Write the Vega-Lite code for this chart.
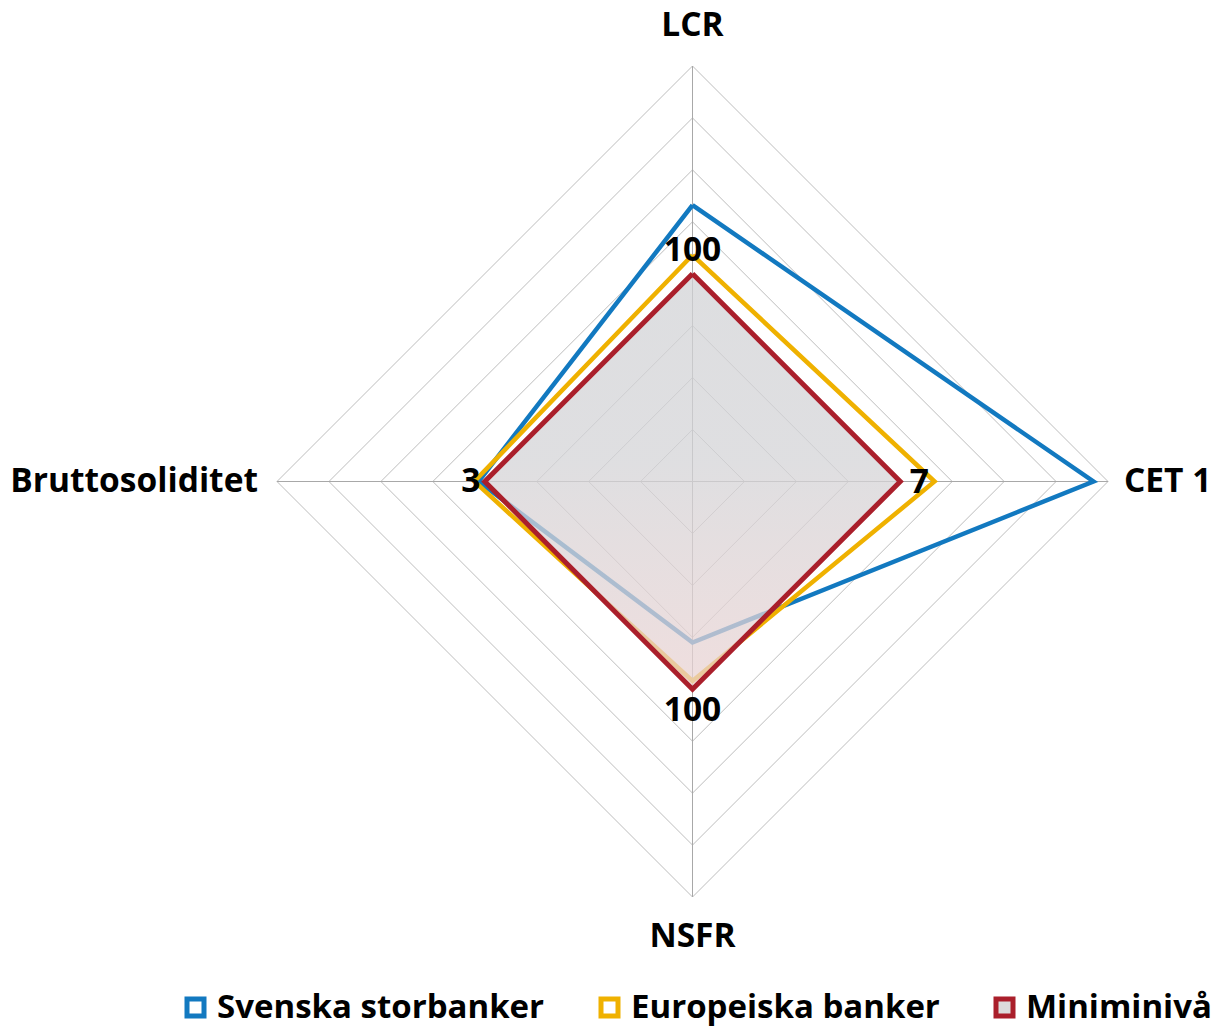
{
  "$schema": "https://vega.github.io/schema/vega-lite/v6.json",
  "width": 831,
  "height": 831,
  "autosize": "none",
  "padding": {"left": 277, "top": 66, "right": 110, "bottom": 130},
  "background": "white",
  "config": {"view": {"stroke": null}, "font": "Open Sans"},
  "datasets": {
    "grid": [
      {"v":25,"a":"LCR","o":0},{"v":25,"a":"CET 1","o":1},{"v":25,"a":"NSFR","o":2},{"v":25,"a":"Bruttosoliditet","o":3},{"v":25,"a":"LCR","o":4},
      {"v":50,"a":"LCR","o":0},{"v":50,"a":"CET 1","o":1},{"v":50,"a":"NSFR","o":2},{"v":50,"a":"Bruttosoliditet","o":3},{"v":50,"a":"LCR","o":4},
      {"v":75,"a":"LCR","o":0},{"v":75,"a":"CET 1","o":1},{"v":75,"a":"NSFR","o":2},{"v":75,"a":"Bruttosoliditet","o":3},{"v":75,"a":"LCR","o":4},
      {"v":100,"a":"LCR","o":0},{"v":100,"a":"CET 1","o":1},{"v":100,"a":"NSFR","o":2},{"v":100,"a":"Bruttosoliditet","o":3},{"v":100,"a":"LCR","o":4},
      {"v":125,"a":"LCR","o":0},{"v":125,"a":"CET 1","o":1},{"v":125,"a":"NSFR","o":2},{"v":125,"a":"Bruttosoliditet","o":3},{"v":125,"a":"LCR","o":4},
      {"v":150,"a":"LCR","o":0},{"v":150,"a":"CET 1","o":1},{"v":150,"a":"NSFR","o":2},{"v":150,"a":"Bruttosoliditet","o":3},{"v":150,"a":"LCR","o":4},
      {"v":175,"a":"LCR","o":0},{"v":175,"a":"CET 1","o":1},{"v":175,"a":"NSFR","o":2},{"v":175,"a":"Bruttosoliditet","o":3},{"v":175,"a":"LCR","o":4},
      {"v":200,"a":"LCR","o":0},{"v":200,"a":"CET 1","o":1},{"v":200,"a":"NSFR","o":2},{"v":200,"a":"Bruttosoliditet","o":3},{"v":200,"a":"LCR","o":4}
    ],
    "spokes": [
      {"x1":-200,"y1":0,"x2":200,"y2":0},
      {"x1":0,"y1":-200,"x2":0,"y2":200}
    ],
    "series": [
      {"s":"Svenska storbanker","a":"LCR","v":133,"o":0},
      {"s":"Svenska storbanker","a":"CET 1","v":193,"o":1},
      {"s":"Svenska storbanker","a":"NSFR","v":77.5,"o":2},
      {"s":"Svenska storbanker","a":"Bruttosoliditet","v":103,"o":3},
      {"s":"Svenska storbanker","a":"LCR","v":133,"o":4},
      {"s":"Europeiska banker","a":"LCR","v":109,"o":0},
      {"s":"Europeiska banker","a":"CET 1","v":116.5,"o":1},
      {"s":"Europeiska banker","a":"NSFR","v":96,"o":2},
      {"s":"Europeiska banker","a":"Bruttosoliditet","v":105,"o":3},
      {"s":"Europeiska banker","a":"LCR","v":109,"o":4},
      {"s":"Miniminivå","a":"LCR","v":100,"o":0},
      {"s":"Miniminivå","a":"CET 1","v":100,"o":1},
      {"s":"Miniminivå","a":"NSFR","v":100,"o":2},
      {"s":"Miniminivå","a":"Bruttosoliditet","v":100,"o":3},
      {"s":"Miniminivå","a":"LCR","v":100,"o":4}
    ],
    "valuelabels": [
      {"a":"LCR","v":100,"t":"100"},
      {"a":"CET 1","v":100,"t":"7"},
      {"a":"NSFR","v":100,"t":"100"},
      {"a":"Bruttosoliditet","v":100,"t":"3"}
    ],
    "axislabels": [
      {"a":"LCR","v":200},
      {"a":"CET 1","v":200},
      {"a":"NSFR","v":200},
      {"a":"Bruttosoliditet","v":200}
    ]
  },
  "layer": [
    {
      "data": {"name": "grid"},
      "transform": [
        {"calculate": "datum.a==='CET 1' ? datum.v : (datum.a==='Bruttosoliditet' ? -datum.v : 0)", "as": "x"},
        {"calculate": "datum.a==='LCR' ? datum.v : (datum.a==='NSFR' ? -datum.v : 0)", "as": "y"}
      ],
      "mark": {"type": "line", "stroke": "#bdbdbd", "strokeWidth": 1},
      "encoding": {
        "x": {"field": "x", "type": "quantitative", "scale": {"domain": [-200, 200], "nice": false}, "axis": null},
        "y": {"field": "y", "type": "quantitative", "scale": {"domain": [-200, 200], "nice": false}, "axis": null},
        "detail": {"field": "v"},
        "order": {"field": "o"}
      }
    },
    {
      "data": {"name": "spokes"},
      "mark": {"type": "rule", "stroke": "#a8a8a8", "strokeWidth": 1},
      "encoding": {
        "x": {"field": "x1", "type": "quantitative"},
        "y": {"field": "y1", "type": "quantitative"},
        "x2": {"field": "x2"},
        "y2": {"field": "y2"}
      }
    },
    {
      "data": {"name": "series"},
      "transform": [
        {"filter": "datum.s !== 'Miniminivå'"},
        {"calculate": "datum.a==='CET 1' ? datum.v : (datum.a==='Bruttosoliditet' ? -datum.v : 0)", "as": "x"},
        {"calculate": "datum.a==='LCR' ? datum.v : (datum.a==='NSFR' ? -datum.v : 0)", "as": "y"}
      ],
      "mark": {"type": "line", "strokeWidth": 4.5, "strokeJoin": "miter"},
      "encoding": {
        "x": {"field": "x", "type": "quantitative"},
        "y": {"field": "y", "type": "quantitative"},
        "color": {
          "field": "s", "type": "nominal",
          "scale": {"domain": ["Svenska storbanker", "Europeiska banker", "Miniminivå"], "range": ["#1279c0", "#efb100", "#aa1f2b"]},
          "legend": {
            "title": null,
            "orient": "none",
            "direction": "horizontal",
            "legendX": -98,
            "legendY": 925,
            "labelFont": "Open Sans",
            "labelFontSize": 33,
            "labelFontWeight": "bold",
            "labelColor": "#000000",
            "labelLimit": 0,
            "labelOffset": 5,
            "columnPadding": 46,
            "symbolType": "square",
            "symbolSize": 289,
            "symbolStrokeWidth": 5,
            "encode": {
              "symbols": {
                "update": {
                  "fill": {"signal": "datum.value === 'Miniminivå' ? '#dcdcdc' : '#ffffff'"},
                  "fillOpacity": {"value": 1},
                  "strokeWidth": {"value": 5}
                }
              }
            }
          }
        },
        "detail": {"field": "s"},
        "order": {"field": "o"}
      }
    },
    {
      "data": {"name": "series"},
      "transform": [
        {"filter": "datum.s === 'Miniminivå'"},
        {"calculate": "datum.a==='CET 1' ? datum.v : (datum.a==='Bruttosoliditet' ? -datum.v : 0)", "as": "x"},
        {"calculate": "datum.a==='LCR' ? datum.v : (datum.a==='NSFR' ? -datum.v : 0)", "as": "y"}
      ],
      "mark": {
        "type": "line",
        "strokeOpacity": 0,
        "fillOpacity": 0.75,
        "fill": {
          "gradient": "linear", "x1": 0, "y1": 0, "x2": 0, "y2": 1,
          "stops": [
            {"offset": 0, "color": "#d2d3d6"},
            {"offset": 0.45, "color": "#d4d4d7"},
            {"offset": 1, "color": "#ead3d3"}
          ]
        }
      },
      "encoding": {
        "x": {"field": "x", "type": "quantitative"},
        "y": {"field": "y", "type": "quantitative"},
        "order": {"field": "o"}
      }
    },
    {
      "data": {"name": "series"},
      "transform": [
        {"filter": "datum.s === 'Miniminivå'"},
        {"calculate": "datum.a==='CET 1' ? datum.v : (datum.a==='Bruttosoliditet' ? -datum.v : 0)", "as": "x"},
        {"calculate": "datum.a==='LCR' ? datum.v : (datum.a==='NSFR' ? -datum.v : 0)", "as": "y"}
      ],
      "mark": {"type": "line", "strokeWidth": 5, "strokeJoin": "miter"},
      "encoding": {
        "x": {"field": "x", "type": "quantitative"},
        "y": {"field": "y", "type": "quantitative"},
        "color": {"field": "s", "type": "nominal"},
        "order": {"field": "o"}
      }
    },
    {
      "data": {"name": "valuelabels"},
      "transform": [
        {"filter": "datum.a === 'LCR'"}
      ],
      "mark": {"type": "text", "font": "Open Sans", "fontSize": 33.5, "fontWeight": "bold", "color": "#000000", "align": "center", "baseline": "middle", "dy": -23},
      "encoding": {
        "x": {"datum": 0, "type": "quantitative"},
        "y": {"field": "v", "type": "quantitative"},
        "text": {"field": "t"}
      }
    },
    {
      "data": {"name": "valuelabels"},
      "transform": [
        {"filter": "datum.a === 'NSFR'"},
        {"calculate": "-datum.v", "as": "y"}
      ],
      "mark": {"type": "text", "font": "Open Sans", "fontSize": 33.5, "fontWeight": "bold", "color": "#000000", "align": "center", "baseline": "middle", "dy": 22},
      "encoding": {
        "x": {"datum": 0, "type": "quantitative"},
        "y": {"field": "y", "type": "quantitative"},
        "text": {"field": "t"}
      }
    },
    {
      "data": {"name": "valuelabels"},
      "transform": [
        {"filter": "datum.a === 'CET 1'"}
      ],
      "mark": {"type": "text", "font": "Open Sans", "fontSize": 33.5, "fontWeight": "bold", "color": "#000000", "align": "center", "baseline": "middle", "dx": 19, "dy": 1},
      "encoding": {
        "x": {"field": "v", "type": "quantitative"},
        "y": {"datum": 0, "type": "quantitative"},
        "text": {"field": "t"}
      }
    },
    {
      "data": {"name": "valuelabels"},
      "transform": [
        {"filter": "datum.a === 'Bruttosoliditet'"},
        {"calculate": "-datum.v", "as": "x"}
      ],
      "mark": {"type": "text", "font": "Open Sans", "fontSize": 33.5, "fontWeight": "bold", "color": "#000000", "align": "center", "baseline": "middle", "dx": -14, "dy": 0},
      "encoding": {
        "x": {"field": "x", "type": "quantitative"},
        "y": {"datum": 0, "type": "quantitative"},
        "text": {"field": "t"}
      }
    },
    {
      "data": {"name": "axislabels"},
      "transform": [
        {"filter": "datum.a === 'LCR'"}
      ],
      "mark": {"type": "text", "font": "Open Sans", "fontSize": 33.5, "fontWeight": "bold", "color": "#000000", "align": "center", "baseline": "middle", "dy": -40},
      "encoding": {
        "x": {"datum": 0, "type": "quantitative"},
        "y": {"field": "v", "type": "quantitative"},
        "text": {"field": "a"}
      }
    },
    {
      "data": {"name": "axislabels"},
      "transform": [
        {"filter": "datum.a === 'NSFR'"},
        {"calculate": "-datum.v", "as": "y"}
      ],
      "mark": {"type": "text", "font": "Open Sans", "fontSize": 33.5, "fontWeight": "bold", "color": "#000000", "align": "center", "baseline": "middle", "dy": 40},
      "encoding": {
        "x": {"datum": 0, "type": "quantitative"},
        "y": {"field": "y", "type": "quantitative"},
        "text": {"field": "a"}
      }
    },
    {
      "data": {"name": "axislabels"},
      "transform": [
        {"filter": "datum.a === 'CET 1'"}
      ],
      "mark": {"type": "text", "font": "Open Sans", "fontSize": 33.5, "fontWeight": "bold", "color": "#000000", "align": "left", "baseline": "middle", "dx": 16},
      "encoding": {
        "x": {"field": "v", "type": "quantitative"},
        "y": {"datum": 0, "type": "quantitative"},
        "text": {"field": "a"}
      }
    },
    {
      "data": {"name": "axislabels"},
      "transform": [
        {"filter": "datum.a === 'Bruttosoliditet'"},
        {"calculate": "-datum.v", "as": "x"}
      ],
      "mark": {"type": "text", "font": "Open Sans", "fontSize": 33.5, "fontWeight": "bold", "color": "#000000", "align": "right", "baseline": "middle", "dx": -19},
      "encoding": {
        "x": {"field": "x", "type": "quantitative"},
        "y": {"datum": 0, "type": "quantitative"},
        "text": {"field": "a"}
      }
    }
  ]
}
